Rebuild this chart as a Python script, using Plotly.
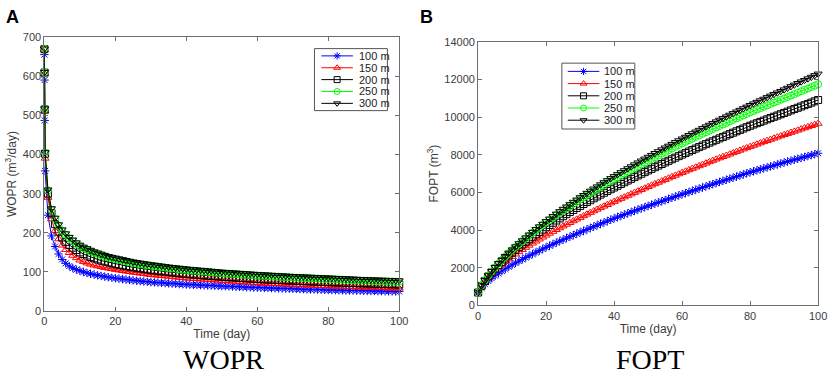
import plotly.graph_objects as go

W, H = 837, 383

# ---------------- data ----------------
TIME_WOPR = [0, 0.05, 0.1, 0.2] + list(range(1, 101))
TIME_FOPT = list(range(0, 101))
LABELS = ["100 m", "150 m", "200 m", "250 m", "300 m"]
X_TICKS = [0, 20, 40, 60, 80, 100]

WOPR_100 = [655, 590, 487, 358,
            245, 192, 165, 146, 132, 122, 115, 110, 106, 103,
            100, 97.5, 95.3, 93.3, 91.5, 89.8, 88.2, 86.7, 85.3, 84,
            82.9, 81.8, 80.7, 79.6, 78.5, 77.6, 76.7, 75.8, 74.9, 74,
            73.4, 72.8, 72.2, 71.6, 71, 70.4, 69.8, 69.2, 68.6, 68,
            67.6, 67.2, 66.8, 66.4, 66, 65.6, 65.2, 64.8, 64.4, 64,
            63.6, 63.2, 62.8, 62.4, 62, 61.6, 61.2, 60.8, 60.4, 60,
            59.7, 59.4, 59.1, 58.8, 58.5, 58.2, 57.9, 57.6, 57.3, 57,
            56.7, 56.4, 56.1, 55.8, 55.5, 55.2, 54.9, 54.6, 54.3, 54,
            53.8, 53.6, 53.4, 53.2, 53, 52.8, 52.6, 52.4, 52.2, 52,
            51.8, 51.6, 51.4, 51.2, 51, 50.8, 50.6, 50.4, 50.2, 50]
WOPR_150 = [668, 606, 510, 390,
            290, 235, 205, 184, 168, 157, 149, 142, 136, 130,
            126, 122.5, 119.5, 117, 115, 113, 111, 109.5, 108, 106,
            104.6, 103.2, 101.8, 100.4, 99, 97.8, 96.6, 95.4, 94.2, 93,
            92.1, 91.2, 90.3, 89.4, 88.5, 87.6, 86.7, 85.8, 84.9, 84,
            83.4, 82.8, 82.2, 81.6, 81, 80.4, 79.8, 79.2, 78.6, 78,
            77.4, 76.8, 76.2, 75.6, 75, 74.4, 73.8, 73.2, 72.6, 72,
            71.6, 71.2, 70.8, 70.4, 70, 69.6, 69.2, 68.8, 68.4, 68,
            67.6, 67.2, 66.8, 66.4, 66, 65.6, 65.2, 64.8, 64.4, 64,
            63.7, 63.4, 63.1, 62.8, 62.5, 62.2, 61.9, 61.6, 61.3, 61,
            60.7, 60.4, 60.1, 59.8, 59.5, 59.2, 58.9, 58.6, 58.3, 58]
WOPR_200 = [669, 609, 515, 402,
            300, 250, 222, 203, 188, 177, 169, 162, 156, 150,
            146, 142, 138, 135, 132, 129, 127, 124.5, 122, 120,
            118.3, 116.6, 115, 113.5, 112, 110.6, 109.2, 107.8, 106.4, 105,
            104, 103, 102, 101, 100, 99, 98, 97, 96, 95,
            94.3, 93.6, 92.9, 92.2, 91.5, 90.8, 90.1, 89.4, 88.7, 88,
            87.4, 86.8, 86.2, 85.6, 85, 84.4, 83.8, 83.2, 82.6, 82,
            81.6, 81.2, 80.8, 80.4, 80, 79.6, 79.2, 78.8, 78.4, 78,
            77.6, 77.2, 76.8, 76.4, 76, 75.6, 75.2, 74.8, 74.4, 74,
            73.7, 73.4, 73.1, 72.8, 72.5, 72.2, 71.9, 71.6, 71.3, 71,
            70.7, 70.4, 70.1, 69.8, 69.5, 69.2, 68.9, 68.6, 68.3, 68]
WOPR_250 = [670, 610, 516, 404,
            308, 259, 235, 218, 205, 195, 186, 179, 172, 166,
            161, 157, 153, 149, 146, 143, 140, 137, 135, 133,
            131, 129, 127, 125, 123, 121.5, 120, 118.6, 117.3, 116,
            114.8, 113.6, 112.4, 111.2, 110, 109, 108, 107, 106, 105,
            104.2, 103.4, 102.6, 101.8, 101, 100.2, 99.4, 98.6, 97.8, 97,
            96.4, 95.8, 95.2, 94.6, 94, 93.4, 92.8, 92.2, 91.6, 91,
            90.5, 90, 89.5, 89, 88.5, 88, 87.5, 87, 86.5, 86,
            85.6, 85.2, 84.8, 84.4, 84, 83.6, 83.2, 82.8, 82.4, 82,
            81.6, 81.2, 80.8, 80.4, 80, 79.6, 79.2, 78.8, 78.4, 78,
            77.7, 77.4, 77.1, 76.8, 76.5, 76.2, 75.9, 75.6, 75.3, 75]
WOPR_300 = [670, 610, 517, 405,
            310, 262, 238, 221, 208, 198, 189, 182, 175, 169,
            164, 160, 156, 152, 149, 146, 143, 140, 138, 136,
            134, 132, 130, 128, 126, 124.6, 123, 121.6, 120.3, 119,
            117.8, 116.6, 115.4, 114.2, 113, 112, 111, 110, 109, 108,
            107.2, 106.4, 105.6, 104.8, 104, 103.2, 102.4, 101.6, 100.8, 100,
            99.4, 98.8, 98.2, 97.6, 97, 96.4, 95.8, 95.2, 94.6, 94,
            93.5, 93, 92.5, 92, 91.5, 91, 90.5, 90, 89.5, 89,
            88.6, 88.2, 87.8, 87.4, 87, 86.6, 86.2, 85.8, 85.4, 85,
            84.6, 84.2, 83.8, 83.4, 83, 82.6, 82.2, 81.8, 81.4, 81,
            80.7, 80.4, 80.1, 79.8, 79.5, 79.2, 78.9, 78.6, 78.3, 78]

FOPT_100 = [680, 935, 1125, 1290, 1438, 1574, 1701, 1821, 1934, 2044, 2150,
            2250, 2348, 2444, 2539, 2632, 2724, 2815, 2904, 2992, 3080,
            3164, 3247, 3329, 3410, 3490, 3569, 3648, 3726, 3803, 3880,
            3956, 4031, 4106, 4180, 4254, 4328, 4401, 4474, 4547, 4620,
            4687, 4754, 4821, 4887, 4953, 5019, 5085, 5150, 5215, 5280,
            5342, 5404, 5466, 5528, 5590, 5652, 5714, 5776, 5838, 5900,
            5960, 6020, 6080, 6140, 6200, 6260, 6320, 6380, 6440, 6500,
            6557, 6614, 6671, 6728, 6785, 6842, 6899, 6956, 7013, 7070,
            7122, 7174, 7226, 7278, 7330, 7382, 7434, 7486, 7538, 7590,
            7639, 7688, 7737, 7786, 7835, 7884, 7933, 7982, 8031, 8080]
FOPT_150 = [680, 1010, 1270, 1490, 1685, 1860, 2022, 2175, 2320, 2458, 2590,
            2715, 2837, 2956, 3072, 3185, 3296, 3405, 3512, 3617, 3720,
            3820, 3918, 4015, 4110, 4204, 4297, 4389, 4480, 4570, 4660,
            4749, 4837, 4924, 5010, 5095, 5179, 5263, 5346, 5428, 5510,
            5591, 5671, 5751, 5830, 5909, 5988, 6066, 6144, 6222, 6300,
            6376, 6452, 6528, 6603, 6678, 6753, 6828, 6902, 6976, 7050,
            7122, 7194, 7266, 7337, 7408, 7479, 7550, 7620, 7690, 7760,
            7828, 7896, 7964, 8031, 8098, 8165, 8232, 8298, 8364, 8430,
            8494, 8558, 8622, 8685, 8748, 8811, 8874, 8936, 8998, 9060,
            9120, 9180, 9240, 9300, 9360, 9420, 9480, 9540, 9600, 9660]
FOPT_200 = [680, 1034, 1298, 1532, 1746, 1945, 2134, 2308, 2477, 2641, 2795,
            2945, 3092, 3235, 3374, 3510, 3643, 3773, 3900, 4025, 4150,
            4270, 4389, 4506, 4621, 4734, 4845, 4955, 5064, 5172, 5280,
            5383, 5485, 5586, 5686, 5785, 5883, 5980, 6076, 6169, 6260,
            6353, 6446, 6538, 6630, 6720, 6811, 6900, 6990, 7077, 7165,
            7251, 7338, 7423, 7509, 7593, 7678, 7761, 7845, 7927, 8010,
            8090, 8171, 8250, 8330, 8408, 8487, 8564, 8642, 8718, 8795,
            8871, 8947, 9022, 9098, 9172, 9247, 9320, 9394, 9467, 9540,
            9609, 9678, 9746, 9814, 9882, 9950, 10018, 10085, 10153, 10220,
            10290, 10359, 10428, 10497, 10566, 10634, 10702, 10770, 10840, 10910]
FOPT_250 = [680, 1048, 1326, 1574, 1802, 2015, 2218, 2406, 2589, 2767, 2935,
            3096, 3254, 3408, 3558, 3705, 3849, 3990, 4128, 4264, 4400,
            4529, 4658, 4784, 4909, 5031, 5152, 5271, 5390, 5507, 5625,
            5737, 5849, 5959, 6069, 6177, 6285, 6391, 6497, 6599, 6700,
            6801, 6901, 7001, 7100, 7198, 7296, 7393, 7490, 7585, 7680,
            7774, 7868, 7961, 8054, 8146, 8238, 8329, 8420, 8510, 8600,
            8686, 8773, 8858, 8944, 9028, 9113, 9196, 9280, 9362, 9445,
            9527, 9609, 9690, 9772, 9852, 9933, 10012, 10092, 10171, 10250,
            10325, 10401, 10475, 10550, 10624, 10699, 10773, 10847, 10921, 10995,
            11071, 11147, 11222, 11298, 11373, 11448, 11522, 11597, 11673, 11750]
FOPT_300 = [680, 1050, 1330, 1580, 1810, 2025, 2230, 2420, 2605, 2785, 2955,
            3120, 3282, 3440, 3594, 3745, 3893, 4038, 4180, 4320, 4460,
            4594, 4727, 4858, 4987, 5114, 5239, 5363, 5486, 5608, 5730,
            5847, 5963, 6078, 6192, 6305, 6417, 6528, 6638, 6745, 6850,
            6956, 7061, 7166, 7270, 7373, 7476, 7578, 7680, 7780, 7880,
            7979, 8078, 8176, 8274, 8371, 8468, 8564, 8660, 8755, 8850,
            8943, 9036, 9128, 9220, 9311, 9402, 9492, 9582, 9671, 9760,
            9849, 9937, 10025, 10113, 10200, 10287, 10373, 10459, 10545, 10630,
            10714, 10798, 10881, 10964, 11047, 11130, 11213, 11295, 11378, 11460,
            11545, 11629, 11713, 11797, 11881, 11964, 12047, 12130, 12215, 12300]

WOPR = [WOPR_100, WOPR_150, WOPR_200, WOPR_250, WOPR_300]
FOPT = [FOPT_100, FOPT_150, FOPT_200, FOPT_250, FOPT_300]

# ---------------- styles ----------------
COLORS = ["#0000FF", "#FF0000", "#000000", "#00FF00", "#000000"]
SYMBOLS = ["asterisk-open", "triangle-up-open", "square-open", "circle-open", "triangle-down-open"]
SANS = "Liberation Sans, Arial, sans-serif"
SERIF = "Liberation Serif, Times New Roman, serif"
AXIS_COL = "#6e6e6e"
TEXT_COL = "#3c3c3c"
MSIZE = 7


def px(x):
    return x / W


def py(y):
    return 1 - y / H


fig = go.Figure()

for i, lab in enumerate(LABELS):
    fig.add_trace(go.Scatter(
        x=TIME_WOPR, y=WOPR[i], name=lab, mode="lines+markers",
        line=dict(color=COLORS[i], width=1),
        marker=dict(symbol=SYMBOLS[i], size=MSIZE, color=COLORS[i], line=dict(color=COLORS[i], width=1)),
        xaxis="x", yaxis="y", showlegend=False, cliponaxis=False))
for i, lab in enumerate(LABELS):
    fig.add_trace(go.Scatter(
        x=TIME_FOPT, y=FOPT[i], name=lab, mode="lines+markers",
        line=dict(color=COLORS[i], width=1),
        marker=dict(symbol=SYMBOLS[i], size=MSIZE, color=COLORS[i], line=dict(color=COLORS[i], width=1)),
        xaxis="x2", yaxis="y2", showlegend=False, cliponaxis=False))

# ---------------- legend boxes (drawn on a pixel overlay axis) ----------------
shapes = []
annotations = []


def add_legend(x0, y0, x1, y1, row0, step, lx0, lx1, tx):
    shapes.append(dict(type="rect", xref="paper", yref="paper",
                       x0=px(x0), x1=px(x1), y0=py(y0), y1=py(y1),
                       line=dict(color="#555555", width=1), fillcolor="white", layer="below"))
    for i, lab in enumerate(LABELS):
        yy = row0 + i * step
        fig.add_trace(go.Scatter(x=[lx0, lx1], y=[yy, yy], mode="lines",
                                 line=dict(color=COLORS[i], width=1),
                                 xaxis="x3", yaxis="y3", showlegend=False, hoverinfo="skip"))
        fig.add_trace(go.Scatter(x=[(lx0 + lx1) / 2], y=[yy], mode="markers",
                                 marker=dict(symbol=SYMBOLS[i], size=MSIZE - 1, color=COLORS[i],
                                             line=dict(color=COLORS[i], width=1)),
                                 xaxis="x3", yaxis="y3", showlegend=False, hoverinfo="skip"))
        annotations.append(dict(text=lab, xref="paper", yref="paper", x=px(tx), y=py(yy),
                                xanchor="left", yanchor="middle", showarrow=False,
                                font=dict(family=SANS, size=11, color="#222222")))


add_legend(316, 44, 390, 108, 51.5, 12.25, 323, 355, 359)
add_legend(567, 59, 641, 127, 67.5, 12.6, 573, 605, 608)

# panel letters & captions
annotations += [
    dict(text="<b>A</b>", xref="paper", yref="paper", x=px(1), y=py(11.5), xanchor="left", yanchor="middle",
         showarrow=False, font=dict(family=SANS, size=18, color="black")),
    dict(text="<b>B</b>", xref="paper", yref="paper", x=px(421), y=py(11.5), xanchor="left", yanchor="middle",
         showarrow=False, font=dict(family=SANS, size=18, color="black")),
    dict(text="WOPR", xref="paper", yref="paper", x=px(224), y=0, xanchor="center", yanchor="bottom",
         showarrow=False, font=dict(family=SERIF, size=28, color="black")),
    dict(text="FOPT", xref="paper", yref="paper", x=px(656), y=0, xanchor="center", yanchor="bottom",
         showarrow=False, font=dict(family=SERIF, size=28, color="black")),
]

axis_common = dict(showline=True, linecolor=AXIS_COL, linewidth=1, mirror="ticks",
                   ticks="inside", ticklen=4, tickcolor=AXIS_COL, tickwidth=1,
                   showgrid=False, zeroline=False,
                   tickfont=dict(family=SANS, size=11, color=TEXT_COL), fixedrange=True)

fig.update_layout(
    width=W, height=H, margin=dict(l=0, r=0, t=0, b=0),
    paper_bgcolor="white", plot_bgcolor="rgba(0,0,0,0)",
    showlegend=False,
    xaxis=dict(domain=[px(42), px(402)], range=[0, 100], tickvals=X_TICKS, anchor="y",
               title=dict(text="Time (day)", standoff=3, font=dict(family=SANS, size=12, color=TEXT_COL)),
               **axis_common),
    yaxis=dict(domain=[py(315), py(32)], range=[0, 700], dtick=100, anchor="x",
               title=dict(text="WOPR (m<sup>3</sup>/day)", standoff=3, font=dict(family=SANS, size=12, color=TEXT_COL)),
               **axis_common),
    xaxis2=dict(domain=[px(482), px(827)], range=[0, 100], tickvals=X_TICKS, anchor="y2",
                title=dict(text="Time (day)", standoff=3, font=dict(family=SANS, size=12, color=TEXT_COL)),
                **axis_common),
    yaxis2=dict(domain=[py(309), py(37)], range=[0, 14000], dtick=2000, tickformat="d", anchor="x2",
                title=dict(text="FOPT (m<sup>3</sup>)", standoff=3, font=dict(family=SANS, size=12, color=TEXT_COL)),
                **axis_common),
    xaxis3=dict(domain=[0, 1], range=[0, W], visible=False, fixedrange=True, anchor="y3"),
    yaxis3=dict(domain=[0, 1], range=[H, 0], visible=False, fixedrange=True, anchor="x3"),
    shapes=shapes,
    annotations=annotations,
)

fig.write_html("out.html", config={"displayModeBar": False},
               post_script="document.body.style.margin='0';document.body.style.overflow='hidden';")
